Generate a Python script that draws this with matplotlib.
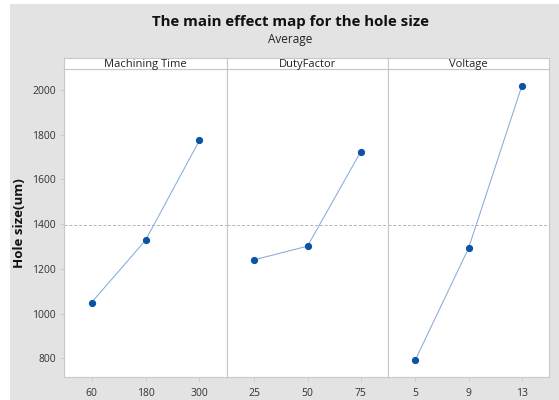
import numpy as np
import matplotlib.pyplot as plt
from matplotlib.patches import Rectangle

plt.rcParams['font.family'] = ['Open Sans', 'DejaVu Sans']

# factor levels and mean hole size at each level
factors = ['Machining Time', 'DutyFactor', 'Voltage']
levels = [[60, 180, 300], [25, 50, 75], [5, 9, 13]]
means = [[1050, 1328, 1775],
         [1241, 1302, 1725],
         [792, 1292, 2018]]
grand_mean = 1398
yticks = [800, 1000, 1200, 1400, 1600, 1800, 2000]

W, H = 559, 400
fig = plt.figure(figsize=(W / 100, H / 100), dpi=100)
fig.patch.set_facecolor('white')
# grey backdrop behind the whole chart
fig.patches.append(Rectangle((10 / W, 0), 1 - 10 / W, 1 - 4 / H,
                             transform=fig.transFigure, facecolor='#e3e3e3',
                             edgecolor='none', zorder=-10))

edges = [64, 227, 388, 549]
top, bottom = 69, 377
strip_top = 58
spine_col = '#c8c8c8'

for i, name in enumerate(factors):
    x0, x1 = edges[i], edges[i + 1]
    ax = fig.add_axes([x0 / W, 1 - bottom / H, (x1 - x0) / W, (bottom - top) / H])
    ax.set_facecolor('white')
    x = levels[i]
    step = x[1] - x[0]
    ax.plot(x, means[i], color='#86acdb', lw=0.75, zorder=2)
    ax.plot(x, means[i], 'o', color='#0b54a4', ms=4.2, zorder=3)
    ax.axhline(grand_mean, color='#b4b4b4', lw=0.7, ls=(0, (3, 2)), zorder=1)
    ax.set_xlim(x[0] - 0.51 * step, x[-1] + 0.51 * step)
    ax.set_ylim(717, 2094)
    ax.set_xticks(x)
    ax.set_yticks(yticks)
    for s in ax.spines.values():
        s.set_color(spine_col)
        s.set_linewidth(0.8)
    ax.tick_params(axis='both', colors=spine_col, labelcolor='#333333',
                   labelsize=7.5, length=3, width=0.6, pad=3)
    ax.tick_params(axis='x', pad=5)
    if i > 0:
        ax.tick_params(axis='y', left=False, labelleft=False)
    else:
        ax.set_ylabel('Hole size(um)', fontsize=9.5, fontweight='bold',
                      color='#111111', labelpad=4)

    # factor name strip above each panel
    sx = fig.add_axes([x0 / W, 1 - top / H, (x1 - x0) / W, (top - strip_top) / H])
    sx.set_facecolor('white')
    sx.set_xticks([])
    sx.set_yticks([])
    for s in sx.spines.values():
        s.set_color(spine_col)
        s.set_linewidth(0.8)
    sx.text(0.5, 0.45, name, ha='center', va='center', fontsize=8,
            color='#222222', transform=sx.transAxes)

fig.text(290 / W, 1 - 22 / H, 'The main effect map for the hole size',
         ha='center', va='center', fontsize=10.8, fontweight='bold', color='#111111')
fig.text(290 / W, 1 - 40 / H, 'Average', ha='center', va='center',
         fontsize=8.5, color='#222222')

fig.savefig('out.png', dpi=100)
